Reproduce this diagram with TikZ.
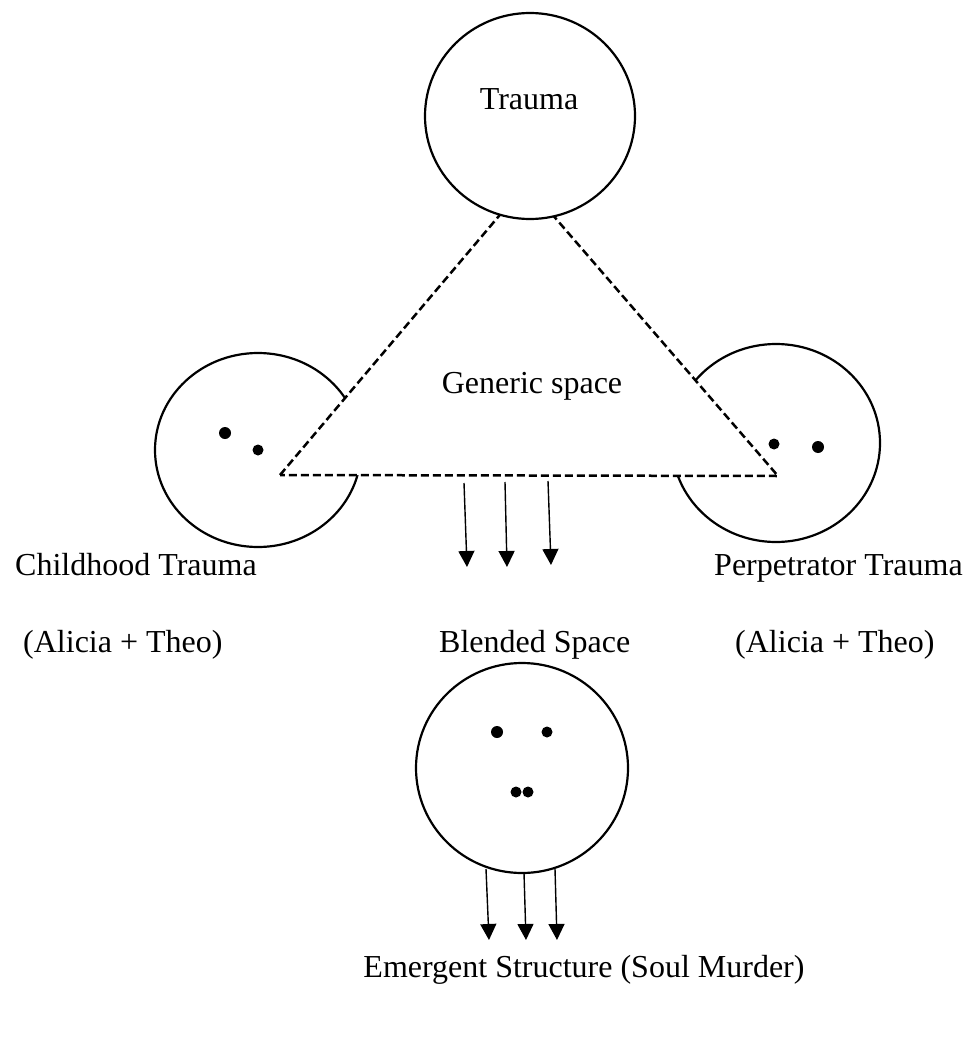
\documentclass[tikz,border=0pt]{standalone}
\usepackage{fontspec}
\setmainfont{Liberation Serif}
\usetikzlibrary{shapes.geometric,arrows.meta}
\begin{document}
\begin{tikzpicture}[x=1pt,y=-1pt,
  ring/.style={ellipse, draw, line width=2.2pt, inner sep=0pt, fill=white},
  dot/.style={circle, fill=black, inner sep=0pt, minimum size=12pt},
  dotsm/.style={circle, fill=black, inner sep=0pt, minimum size=11pt},
  tri/.style={draw, fill=white, line width=2.5pt, dash pattern=on 8pt off 4pt, line join=miter},
  flow/.style={line width=1.4pt, -{Triangle[width=16pt,length=16pt]}},
  lbl/.style={inner sep=0pt, font=\fontsize{32}{38}\selectfont}]
\useasboundingbox (0,0) rectangle (970,1043);
% side spaces
\node[ring, minimum width=206pt, minimum height=194pt] (child) at (258,450) {};
\node[ring, minimum width=208pt, minimum height=198pt] (perp) at (776,443) {};
% generic space triangle
\coordinate (tl) at (280,475);
\coordinate (tr) at (778,476);
\coordinate (apex) at (526,184);
\draw[tri] (tl) -- (apex) -- (tr) -- cycle;
% trauma and blended spaces
\node[ring, minimum width=210pt, minimum height=206pt] (trauma) at (530,116) {};
\node[ring, minimum width=212pt, minimum height=210pt] (blend) at (522,768) {};
% dots
\node[dot] (c1) at (225,433) {};
\node[dotsm] (c2) at (258,450) {};
\node[dotsm] (p1) at (774,444) {};
\node[dot] (p2) at (818,447) {};
\node[dot] (b1) at (497,732) {};
\node[dotsm] (b2) at (547,732) {};
\node[dotsm] (b3) at (516,792) {};
\node[dotsm] (b4) at (528,792) {};
% arrows into blended space
\coordinate (a1s) at (464,483); \coordinate (a1e) at (467,567);
\coordinate (a2s) at (505,482); \coordinate (a2e) at (507,567);
\coordinate (a3s) at (548,481); \coordinate (a3e) at (551,565);
\draw[flow] (a1s) -- (a1e);
\draw[flow] (a2s) -- (a2e);
\draw[flow] (a3s) -- (a3e);
% arrows to emergent structure
\coordinate (e1s) at (486,869); \coordinate (e1e) at (489,940);
\coordinate (e2s) at (524,873); \coordinate (e2e) at (526,940);
\coordinate (e3s) at (555,869); \coordinate (e3e) at (557,940);
\draw[flow] (e1s) -- (e1e);
\draw[flow] (e2s) -- (e2e);
\draw[flow] (e3s) -- (e3e);
% labels
\node[lbl, anchor=base] (ttrauma) at (529,110) {Trauma};
\node[lbl, anchor=base] (tgeneric) at (532,393) {Generic space};
\node[lbl, anchor=base west] (tchild) at (15,575) {Childhood Trauma};
\node[lbl, anchor=base west] (tperp) at (714,575) {Perpetrator Trauma};
\node[lbl, anchor=base west] (tat1) at (23,652) {(Alicia + Theo)};
\node[lbl, anchor=base west] (tblend) at (439,652) {Blended Space};
\node[lbl, anchor=base west] (tat2) at (735,652) {(Alicia + Theo)};
\node[lbl, anchor=base] (temerg) at (584,977) {Emergent Structure (Soul Murder)};
\end{tikzpicture}
\end{document}
